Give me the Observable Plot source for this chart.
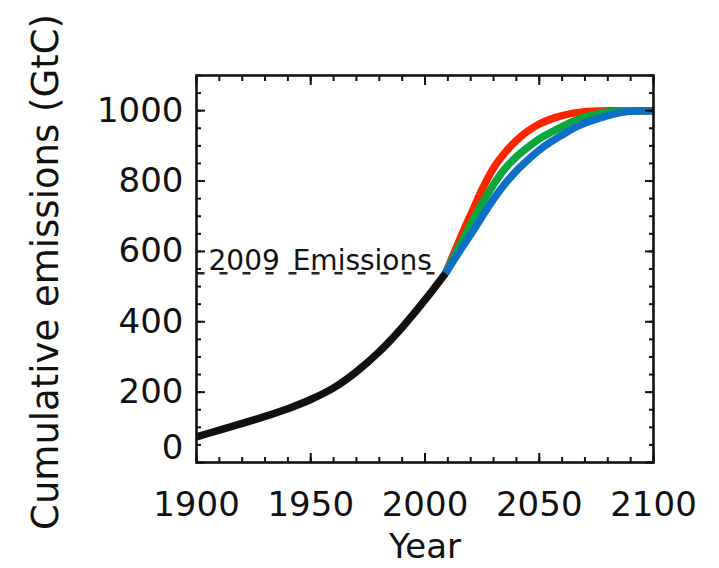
<!DOCTYPE html>
<html>
<head>
<meta charset="utf-8">
<script src="https://cdn.jsdelivr.net/npm/d3@7"></script>
<script src="https://cdn.jsdelivr.net/npm/@observablehq/plot@0.6"></script>
<style>
  html, body { margin: 0; padding: 0; background: #fff; }
  #chart svg { display: block; }
</style>
</head>
<body>
<div id="chart"></div>
<script>
// Historical cumulative emissions (black)
const histYears  = [1900, 1910, 1920, 1930, 1940, 1950, 1960, 1970, 1980, 1990, 2000, 2009];
const histValues = [73, 92, 111, 131, 153, 179, 212, 258, 315, 384, 462, 538];

// Future pathways to 1000 GtC
const futYears    = [2009, 2013, 2017, 2020, 2025, 2030, 2035, 2040, 2045, 2050, 2055, 2060, 2065, 2070, 2075, 2080, 2085, 2090, 2095, 2100];
const redValues   = [538, 600, 661, 704, 776, 837, 881, 915, 942, 962, 976, 986, 993, 997, 999, 1000, 1000, 1000, 1000, 1000];
const greenValues = [538, 590, 639, 677, 737, 790, 835, 869, 896, 920, 938, 955, 970, 982, 990, 996, 999, 1000, 1000, 1000];
const blueValues  = [538, 579, 619, 648, 699, 749, 792, 829, 860, 888, 911, 931, 950, 965, 976, 986, 994, 998, 1000, 1000];

// Axis ticks
const xMajor = [1900, 1950, 2000, 2050, 2100];
const xMinor = d3.range(1900, 2101, 10);
const yMajor = [200, 400, 600, 800, 1000];
const yZero  = [0];
const yMajorAll = [0, 200, 400, 600, 800, 1000];
const yMinor = d3.range(0, 1101, 50);

const yLabel = "Cumulative emissions (GtC)";
const xLabel = "Year";
const annotation = "2009 Emissions";

const hist = histYears.map((y, i) => ({year: y, value: histValues[i]}));
const fut = (vals) => futYears.map((y, i) => ({year: y, value: vals[i]}));
const lastHist = hist[hist.length - 1];
const dashData = [{year: histYears[0], value: lastHist.value}, {year: lastHist.year, value: lastHist.value}];

const FS = 34;
const lw = 7.5;

const chart = Plot.plot({
  width: 719,
  height: 568,
  marginLeft: 196,
  marginRight: 66,
  marginTop: 75,
  marginBottom: 106,
  style: {fontFamily: "'DejaVu Sans', Verdana, sans-serif", background: "#fff", color: "#111"},
  x: {domain: [1900, 2100]},
  y: {domain: [0, 1100]},
  marks: [
    // dashed 2009 level
    Plot.line(dashData, {x: "year", y: "value", stroke: "#222", strokeWidth: 2.5, strokeDasharray: "8,15", strokeLinecap: "butt"}),
    Plot.text([annotation], {x: () => histYears[0], y: () => lastHist.value, text: d => d, textAnchor: "start", lineAnchor: "bottom", dx: 12, dy: -3.5, fontSize: 28, fill: "#111"}),
    // future curves
    Plot.line(fut(redValues), {x: "year", y: "value", stroke: "#ff2400", strokeWidth: lw, curve: "monotone-x", strokeLinecap: "butt", clip: true}),
    Plot.line(fut(greenValues), {x: "year", y: "value", stroke: "#0aa83c", strokeWidth: lw, curve: "monotone-x", strokeLinecap: "butt", clip: true}),
    Plot.line(fut(blueValues), {x: "year", y: "value", stroke: "#0d6fc5", strokeWidth: lw, curve: "monotone-x", strokeLinecap: "butt", clip: true}),
    // historical
    Plot.line(hist, {x: "year", y: "value", stroke: "#111", strokeWidth: lw, curve: "monotone-x", strokeLinecap: "butt", clip: true}),
    // inward ticks on all sides
    Plot.axisX({anchor: "bottom", ticks: xMinor, tickSize: -5, tickFormat: () => "", label: null, strokeWidth: 2}),
    Plot.axisX({anchor: "bottom", ticks: xMajor, tickSize: -9, tickFormat: () => "", label: null, strokeWidth: 2}),
    Plot.axisX({anchor: "top", ticks: xMinor, tickSize: -5, tickFormat: () => "", label: null, strokeWidth: 2}),
    Plot.axisX({anchor: "top", ticks: xMajor, tickSize: -9, tickFormat: () => "", label: null, strokeWidth: 2}),
    Plot.axisY({anchor: "left", ticks: yMinor, tickSize: -5, tickFormat: () => "", label: null, strokeWidth: 2}),
    Plot.axisY({anchor: "left", ticks: yMajorAll, tickSize: -9, tickFormat: () => "", label: null, strokeWidth: 2}),
    Plot.axisY({anchor: "right", ticks: yMinor, tickSize: -5, tickFormat: () => "", label: null, strokeWidth: 2}),
    Plot.axisY({anchor: "right", ticks: yMajorAll, tickSize: -9, tickFormat: () => "", label: null, strokeWidth: 2}),
    // tick labels
    Plot.axisX({anchor: "bottom", ticks: xMajor, tickSize: 0, tickPadding: 29, fontSize: FS, tickFormat: d => String(d), label: null}),
    Plot.axisY({anchor: "left", ticks: yMajor, tickSize: 0, tickPadding: 13, fontSize: FS, tickFormat: d => String(d), label: null}),
    Plot.axisY({anchor: "left", ticks: yZero, tickSize: 0, tickPadding: 13, fontSize: FS, dy: -14, tickFormat: d => String(d), label: null}),
    // axis titles
    Plot.text([yLabel], {frameAnchor: "left", rotate: -90, text: d => d, textAnchor: "middle", lineAnchor: "bottom", dx: -139, dy: 3, fontSize: 37, fill: "#111"}),
    Plot.text([xLabel], {frameAnchor: "bottom", text: d => d, textAnchor: "middle", lineAnchor: "bottom", dy: 95, fontSize: FS, fill: "#111"}),
    Plot.frame({stroke: "#111", strokeWidth: 2.6})
  ]
});

document.getElementById("chart").appendChild(chart);

// slightly wider word gap for the annotation, like the original plotting font
for (const t of chart.querySelectorAll("text")) {
  if (t.textContent === annotation) t.setAttribute("word-spacing", "4");
}
</script>
</body>
</html>
